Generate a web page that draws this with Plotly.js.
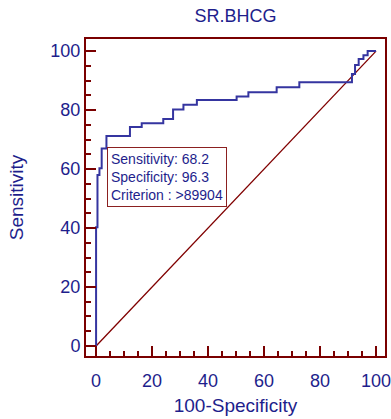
<!DOCTYPE html>
<html>
<head>
<meta charset="utf-8">
<script src="https://cdn.plot.ly/plotly-3.0.1.min.js"></script>
<style>html,body{margin:0;padding:0;background:#fff;}#chart{width:391px;height:419px;}</style>
</head>
<body>
<div id="chart"></div>
<script>
// ROC operating points: 100-Specificity (x) and Sensitivity (y)
var fpr  = [0, 0,    0.5, 1.2,  2,  3.7,  12.1, 16.3, 24, 27.5, 31.2, 36,   50.2, 54.4, 64.5, 72.6, 91.4, 92.5, 93.8, 95.5, 97,  100];
var sens = [0, 40.3, 58,  60.3, 67, 71.2, 74.3, 75.5, 77, 80.2, 81.8, 83.4, 84.6, 86,   87.7, 89.4, 92.2, 95.3, 97.3, 98.6, 100, 100];
var diagX = [0, 100];
var diagY = [0, 100];
var crit = {sensitivity: 68.2, specificity: 96.3, criterion: ">89904"};
var tickVals = [0, 20, 40, 60, 80, 100];

var navy = '#1e1e8c';
var frame = '#7a0000';
var fam = 'Liberation Sans, Arial, sans-serif';

var traces = [
  {x: diagX, y: diagY, mode: 'lines', line: {color: '#800000', width: 1.3}, hoverinfo: 'skip'},
  {x: fpr, y: sens, mode: 'lines', line: {color: '#3535a0', width: 2, shape: 'hv'}}
];

var axisCommon = {
  showline: true, linecolor: frame, linewidth: 2, mirror: true,
  showgrid: false, zeroline: false,
  ticks: 'inside', ticklen: 10, tickwidth: 2, tickcolor: frame,
  tickvals: tickVals,
  ticklabeloverflow: 'allow',
  minor: {dtick: 5, ticks: 'inside', ticklen: 5, tickwidth: 2, tickcolor: frame, showgrid: false},
  tickfont: {family: fam, size: 18, color: navy}
};

var layout = {
  width: 391, height: 419,
  margin: {l: 86, r: 6, t: 39, b: 63},
  paper_bgcolor: '#fff', plot_bgcolor: '#fff',
  showlegend: false,
  title: {text: 'SR.BHCG', font: {family: fam, size: 18, color: navy},
          x: 0.5, xref: 'paper', y: 0.962, yref: 'container', yanchor: 'middle'},
  xaxis: Object.assign({}, axisCommon, {
    range: [-3.6, 103.2],
    ticklabelstandoff: 7,
    title: {text: '100-Specificity', font: {family: fam, size: 19, color: navy}, standoff: 9}
  }),
  yaxis: Object.assign({}, axisCommon, {
    range: [-3.4, 104.1],
    title: {text: 'Sensitivity', font: {family: fam, size: 19, color: navy}, standoff: 22}
  }),
  annotations: [{
    x: 3.9, y: 67.5, xref: 'x', yref: 'y', xanchor: 'left', yanchor: 'top',
    showarrow: false, align: 'left',
    text: 'Sensitivity: ' + crit.sensitivity + '<br>Specificity: ' + crit.specificity + '<br>Criterion : ' + crit.criterion.replace('>', '&gt;'),
    font: {family: fam, size: 14, color: navy},
    bgcolor: '#fff', bordercolor: '#8b2020', borderwidth: 1, borderpad: 3
  }]
};

Plotly.newPlot('chart', traces, layout, {displayModeBar: false, staticPlot: true});
</script>
</body>
</html>
